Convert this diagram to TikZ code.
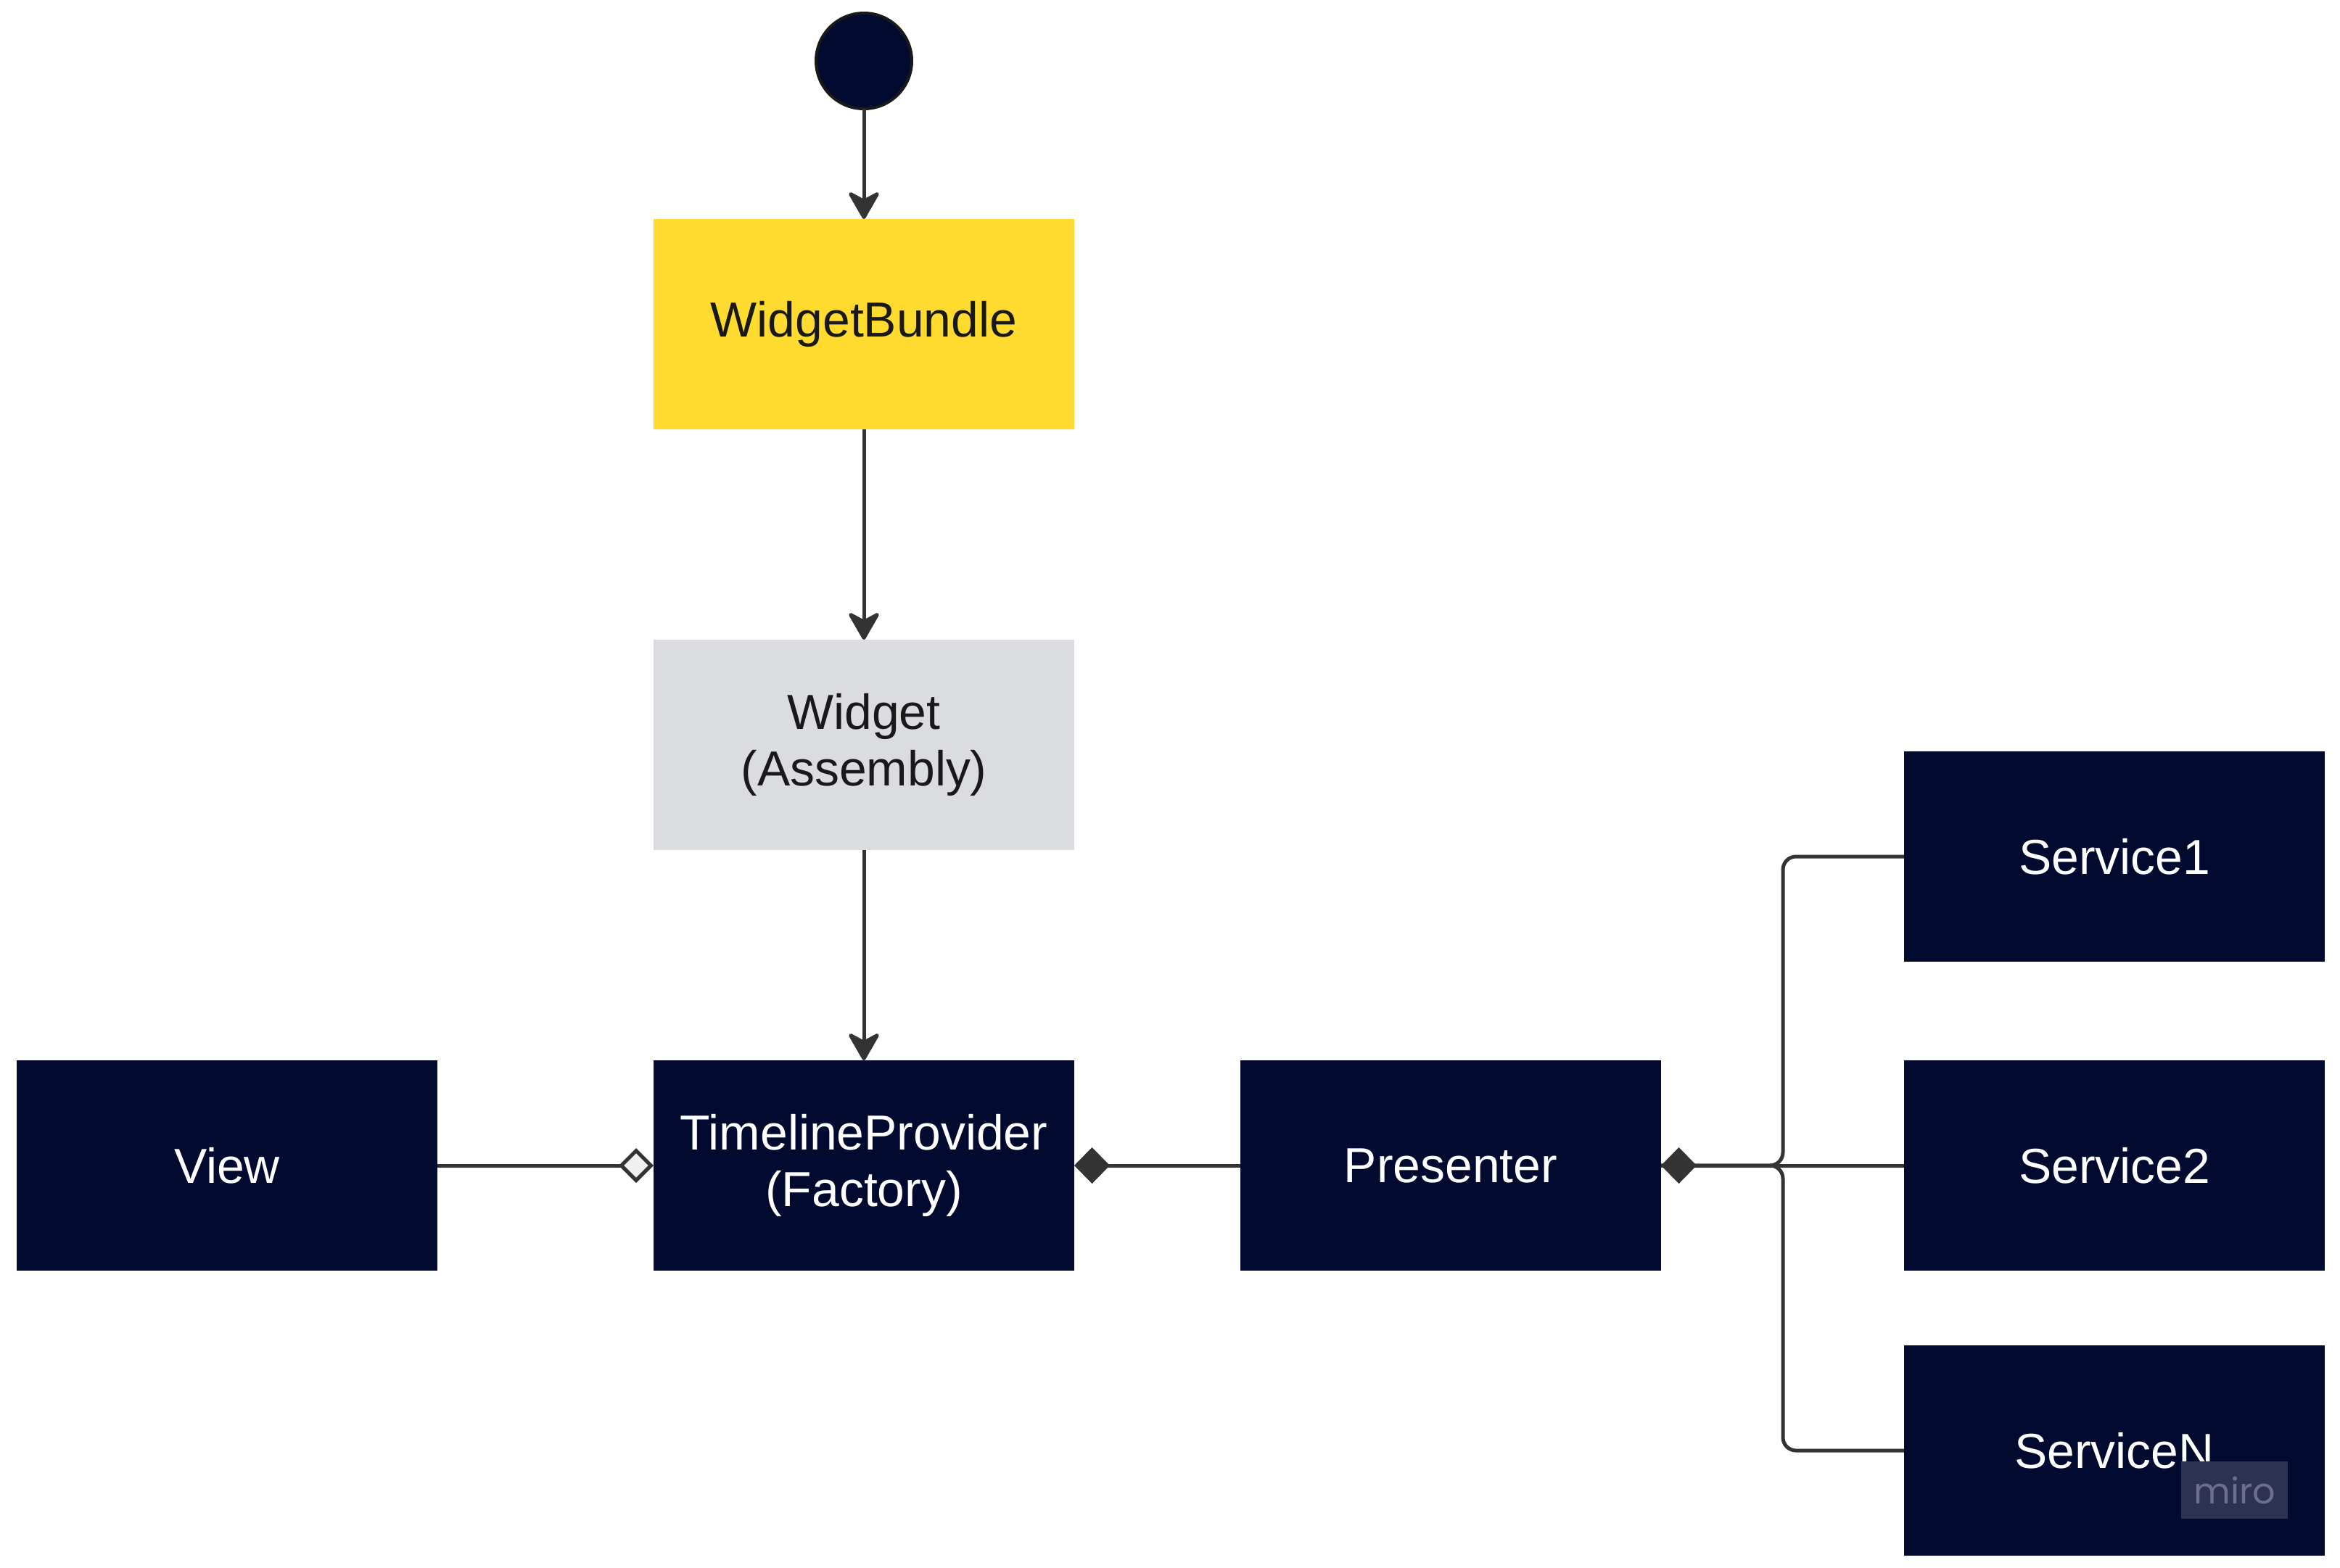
\documentclass[tikz,border=0pt]{standalone}
\usepackage{fontspec}
\setmainfont{Liberation Sans}
\newfontfamily\logofont{Poppins}
\usetikzlibrary{arrows.meta,positioning}
\definecolor{navy}{HTML}{020A30}
\definecolor{sticky}{HTML}{FEDB2E}
\definecolor{mist}{HTML}{DADCE0}
\definecolor{ink}{HTML}{333333}
\definecolor{hollow}{HTML}{F0F0F0}
\definecolor{mirobg}{HTML}{2D3152}
\definecolor{mirofg}{HTML}{6C6E8E}

\begin{document}
\begin{tikzpicture}[node distance=29mm and 29.8mm, every node/.style={font=\fontsize{19.3pt}{22.4pt}\selectfont}, box/.style={align=center,inner sep=0pt,outer sep=0pt,minimum width=58mm,minimum height=29mm}, dark/.style={box,fill=navy,text=white}, arr/.style={-{Stealth[length=4.3mm,width=4.9mm,inset=1.3mm,round]},draw=ink,line width=0.5mm}, line/.style={draw=ink,line width=0.5mm}, agg/.style={line,-{Diamond[length=4.8mm,width=4.8mm,fill=hollow]}}, comp/.style={line,-{Diamond[length=4.9mm,width=5mm]}}]
\useasboundingbox (0,0) rectangle (322.6mm,-216.1mm);
\node[circle,fill=navy,draw=black!90,line width=0.4mm,minimum size=13.2mm,inner sep=0pt,outer sep=0pt] (start) at (119.1mm,-8.4mm) {};
\node[box,fill=sticky,text=black!90,below=15.2mm of start] (bundle) {WidgetBundle};
\node[box,fill=mist,text=black!90,below=of bundle] (widget) {Widget\\(Assembly)};
\node[dark,below=of widget] (provider) {TimelineProvider\\(Factory)};
\node[dark,left=of provider] (view) {View};
\node[dark,right=22.9mm of provider] (presenter) {Presenter};
\node[dark,right=33.5mm of presenter] (service2) {Service2};
\node[dark,above=13.6mm of service2] (service1) {Service1};
\node[dark,below=10.3mm of service2] (serviceN) {ServiceN};
\node[fill=mirobg,text=mirofg,inner sep=0pt,minimum width=14.7mm,minimum height=7.9mm,anchor=south east,font=\logofont\fontsize{14pt}{14pt}\selectfont] (miro) at ([xshift=-5mm,yshift=5mm]serviceN.south east) {miro};
\coordinate (fork) at ([xshift=16.8mm]presenter.east);
\draw[arr] (start) -- (bundle);
\draw[arr] (bundle) -- (widget);
\draw[arr] (widget) -- (provider);
\draw[agg] (view) -- (provider);
\draw[comp] (presenter) -- (provider);
\draw[line,rounded corners=1.8mm] (service1) -| (fork) -- (presenter);
\draw[line,rounded corners=1.8mm] (serviceN) -| (fork) -- (presenter);
\draw[comp] (service2) -- (presenter);
\end{tikzpicture}
\end{document}
